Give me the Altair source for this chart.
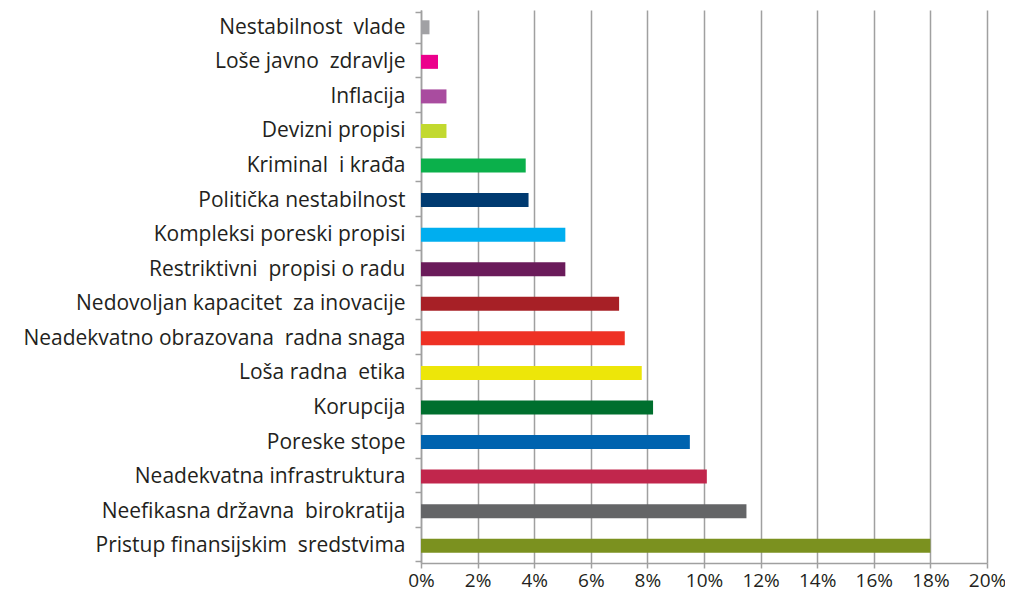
import altair as alt
import pandas as pd

S = "\u00a0 "
categories = [
    "Nestabilnost" + S + "vlade",
    "Loše javno" + S + "zdravlje",
    "Inflacija",
    "Devizni propisi",
    "Kriminal" + S + "i krađa",
    "Politička nestabilnost",
    "Kompleksi poreski propisi",
    "Restriktivni" + S + "propisi o radu",
    "Nedovoljan kapacitet" + S + "za inovacije",
    "Neadekvatno obrazovana" + S + "radna snaga",
    "Loša radna" + S + "etika",
    "Korupcija",
    "Poreske stope",
    "Neadekvatna infrastruktura",
    "Neefikasna državna" + S + "birokratija",
    "Pristup finansijskim" + S + "sredstvima",
]
values = [0.003, 0.006, 0.009, 0.009, 0.037, 0.038, 0.051, 0.051,
          0.070, 0.072, 0.078, 0.082, 0.095, 0.101, 0.115, 0.180]
colors = ["#A1A1A4", "#EC008C", "#A94C9F", "#C2D92F", "#0BB04B", "#003A70",
          "#00AEEF", "#6A1B5A", "#A72026", "#EE3124", "#EDE609", "#006F2E",
          "#0063AF", "#C1264C", "#646567", "#7B911F"]

df = pd.DataFrame({"cat": categories, "val": values, "col": colors})

font = "Open Sans"

chart = alt.Chart(df).mark_bar(size=14).encode(
    x=alt.X("val:Q",
            scale=alt.Scale(domain=[0, 0.2], nice=False),
            axis=alt.Axis(format=".0%", values=[i / 50 for i in range(11)],
                          title=None, grid=True, gridColor="#A0A0A0", gridWidth=1.5,
                          domainColor="#A0A0A0", domainWidth=1.5,
                          tickColor="#A0A0A0", tickWidth=1.5, tickSize=5,
                          labelFont=font, labelFontSize=19, labelColor="#231F20",
                          labelPadding=3, labelFlush=False)),
    y=alt.Y("cat:N", sort=None,
            axis=alt.Axis(title=None, tickBand="extent",
                          domainColor="#A0A0A0", domainWidth=1.5,
                          tickColor="#A0A0A0", tickWidth=1.5, tickSize=6,
                          labelFont=font, labelFontSize=21, labelColor="#231F20",
                          labelPadding=10, labelLimit=500)),
    color=alt.Color("col:N", scale=None, legend=None),
).properties(
    width=566, height=553,
    autosize=alt.AutoSizeParams(type="none"),
    padding={"left": 413, "top": 2, "right": 18, "bottom": 30},
).configure_view(stroke=None)

chart.save("out.html", embed_options={"renderer": "svg", "actions": False})
